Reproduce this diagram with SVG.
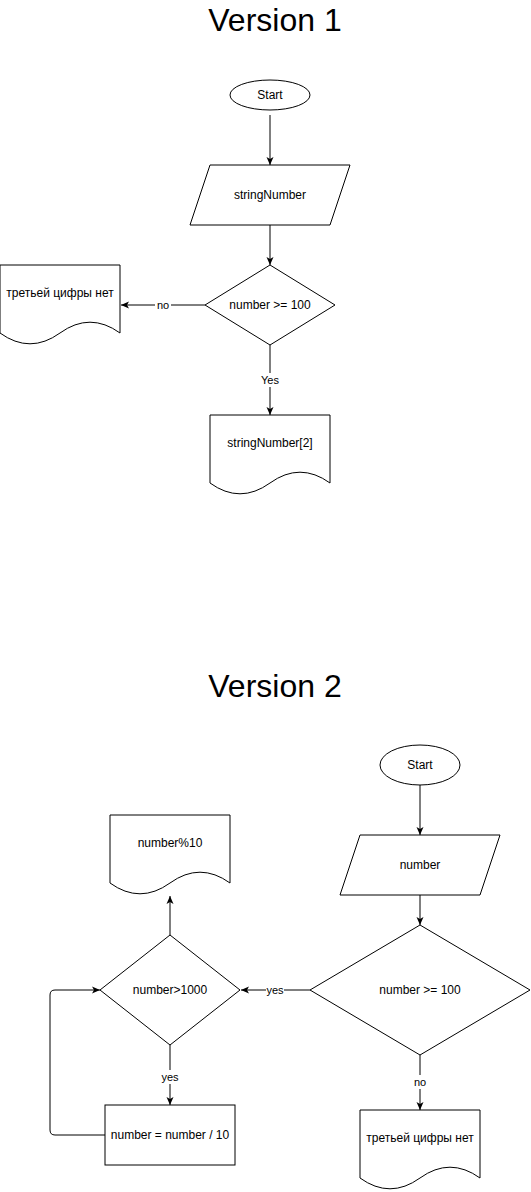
<svg xmlns="http://www.w3.org/2000/svg" width="531" height="1192" viewBox="0 0 531 1192">
<style>
.s{fill:#fff;stroke:#000;stroke-width:1}
.t{font-family:"Liberation Sans",Arial,sans-serif;font-size:12px;fill:#000;text-anchor:middle;dominant-baseline:central}
.l{font-family:"Liberation Sans",Arial,sans-serif;font-size:11px;fill:#000;text-anchor:middle;dominant-baseline:central}
.h{font-family:"Liberation Sans",Arial,sans-serif;font-size:32px;fill:#000;text-anchor:middle}
.e{fill:none;stroke:#000;stroke-width:1}
.bg{fill:#fff}
</style>
<defs>
<marker id="a" viewBox="0 0 8 8" refX="8" refY="4" markerWidth="8" markerHeight="8" markerUnits="userSpaceOnUse" orient="auto">
<path d="M0,0.5 L8,4 L0,7.5 L2,4 Z" fill="#000"/>
</marker>
</defs>
<text class="h" x="275" y="31">Version 1</text>
<text class="h" x="275" y="697">Version 2</text>
<g id="connectors">
<path class="e" d="M270,115 V165" marker-end="url(#a)"/>
<path class="e" d="M270,225 V265" marker-end="url(#a)"/>
<path class="e" d="M205,305 H121" marker-end="url(#a)"/>
<rect class="bg" x="155" y="298" width="16" height="14"/>
<text class="l" x="163" y="305">no</text>
<path class="e" d="M270,345 V415" marker-end="url(#a)"/>
<rect class="bg" x="260" y="373" width="20" height="14"/>
<text class="l" x="270" y="380">Yes</text>
<path class="e" d="M420,785 V835" marker-end="url(#a)"/>
<path class="e" d="M420,895 V925" marker-end="url(#a)"/>
<path class="e" d="M310,990 H241" marker-end="url(#a)"/>
<rect class="bg" x="266" y="983" width="18" height="14"/>
<text class="l" x="275" y="990">yes</text>
<path class="e" d="M170,935 V896" marker-end="url(#a)"/>
<path class="e" d="M170,1045 V1105" marker-end="url(#a)"/>
<rect class="bg" x="161" y="1070" width="18" height="14"/>
<text class="l" x="170" y="1077">yes</text>
<path class="e" d="M105,1135 H55 Q50,1135 50,1130 V995 Q50,990 55,990 H100" marker-end="url(#a)"/>
<path class="e" d="M420,1055 V1110" marker-end="url(#a)"/>
<rect class="bg" x="412" y="1075" width="16" height="14"/>
<text class="l" x="420" y="1082">no</text>
</g>
<g id="start1">
<ellipse class="s" cx="270" cy="95" rx="40" ry="15"/>
<text class="t" x="270" y="95">Start</text>
</g>
<g id="input1">
<path class="s" d="M210,165 H350 L330,225 H190 Z"/>
<text class="t" x="270" y="195">stringNumber</text>
</g>
<g id="decision1">
<path class="s" d="M270,265 L335,305 L270,345 L205,305 Z"/>
<text class="t" x="270" y="305">number &gt;= 100</text>
</g>
<g id="doc_no1">
<path class="s" d="M0,265 H120 V333 Q90,311.4 60,333 Q30,354.6 0,333 Z"/>
<text class="t" x="60" y="293">третьей цифры нет</text>
</g>
<g id="doc_yes1">
<path class="s" d="M210,415 H330 V483 Q300,461.4 270,483 Q240,504.6 210,483 Z"/>
<text class="t" x="270" y="443">stringNumber[2]</text>
</g>
<g id="start2">
<ellipse class="s" cx="420" cy="765" rx="40" ry="20"/>
<text class="t" x="420" y="765">Start</text>
</g>
<g id="input2">
<path class="s" d="M360,835 H500 L480,895 H340 Z"/>
<text class="t" x="420" y="865">number</text>
</g>
<g id="decision2">
<path class="s" d="M420,925 L530,990 L420,1055 L310,990 Z"/>
<text class="t" x="420" y="990">number &gt;= 100</text>
</g>
<g id="decision3">
<path class="s" d="M170,935 L240,990 L170,1045 L100,990 Z"/>
<text class="t" x="170" y="990">number&gt;1000</text>
</g>
<g id="doc_mod">
<path class="s" d="M110,815 H230 V883 Q200,861.4 170,883 Q140,904.6 110,883 Z"/>
<text class="t" x="170" y="843">number%10</text>
</g>
<g id="divide">
<rect class="s" x="105" y="1105" width="130" height="60"/>
<text class="t" x="170" y="1135">number = number / 10</text>
</g>
<g id="doc_no2">
<path class="s" d="M360,1110 H480 V1178 Q450,1156.4 420,1178 Q390,1199.6 360,1178 Z"/>
<text class="t" x="420" y="1138">третьей цифры нет</text>
</g>
</svg>
